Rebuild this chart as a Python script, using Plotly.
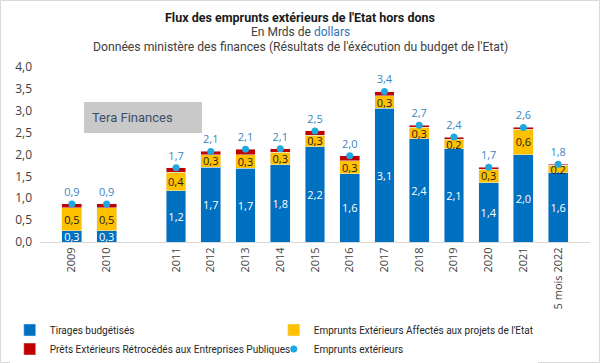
import plotly.graph_objects as go

categories = ["2009", "2010", " ", "2011", "2012", "2013", "2014", "2015", "2016",
              "2017", "2018", "2019", "2020", "2021", "5 mois 2022"]
tirages = [0.26, 0.26, None, 1.17, 1.71, 1.69, 1.77, 2.18, 1.56, 3.06, 2.36, 2.13, 1.36, 2.00, 1.58]
affectes = [0.52, 0.52, None, 0.42, 0.29, 0.30, 0.28, 0.26, 0.30, 0.28, 0.26, 0.22, 0.30, 0.58, 0.17]
retrocedes = [0.09, 0.09, None, 0.11, 0.07, 0.13, 0.08, 0.10, 0.11, 0.10, 0.05, 0.05, 0.05, 0.04, 0.03]
totaux = [0.87, 0.87, None, 1.70, 2.07, 2.12, 2.13, 2.54, 1.97, 3.44, 2.67, 2.40, 1.71, 2.62, 1.78]
y_ticks = [0.0, 0.5, 1.0, 1.5, 2.0, 2.5, 3.0, 3.5, 4.0]

def lab(vals):
    return ["" if v is None else f"{v:.1f}".replace(".", ",") for v in vals]

FONT = "Open Sans, Roboto, sans-serif"
BLUE = "#0070C0"
YELLOW = "#FFC000"
RED = "#C00000"
DOT = "#1FA8E0"

W, H = 600, 363
L, R, T, B = 40, 10, 67, 121
PW, PH = W - L - R, H - T - B

fig = go.Figure()
fig.add_trace(go.Bar(
    x=categories, y=tirages, name="Tirages budgétisés", marker_color=BLUE,
    text=lab(tirages), textposition="inside", insidetextanchor="middle",
    textfont=dict(color="white", size=11, family=FONT), textangle=0,
))
fig.add_trace(go.Bar(
    x=categories, y=affectes, name="Emprunts Extérieurs Affectés aux projets de l'Etat",
    marker_color=YELLOW,
    text=lab(affectes), textposition="inside", insidetextanchor="middle",
    textfont=dict(color="#1a1a1a", size=11, family=FONT), textangle=0,
))
fig.add_trace(go.Bar(
    x=categories, y=retrocedes, name="Prêts Extérieurs Rétrocédés aux Entreprises Publiques",
    marker_color=RED,
))
fig.add_trace(go.Scatter(
    x=categories, y=totaux, name="Emprunts extérieurs", mode="markers+text",
    marker=dict(color=DOT, size=7),
    text=lab(totaux), textposition="top center",
    textfont=dict(color="#3C86BE", size=11, family=FONT), cliponaxis=False,
))

fig.update_layout(
    width=W, height=H,
    barmode="stack", bargap=0.43,
    plot_bgcolor="white", paper_bgcolor="white",
    margin=dict(l=L, r=R, t=T, b=B, autoexpand=False),
    font=dict(family=FONT, size=11, color="#404040"),
    separators=", ",
    uniformtext=dict(minsize=11, mode="show"),
    showlegend=True,
    legend=dict(orientation="h", x=-0.055, xanchor="left", y=-0.42, yanchor="top",
                entrywidth=219, entrywidthmode="pixels", traceorder="normal",
                font=dict(size=10, color="#262626", family="Roboto, sans-serif"),
                itemwidth=30, tracegroupgap=0),
    xaxis=dict(type="category", categoryorder="array", categoryarray=categories,
               tickangle=-90, showline=True, linecolor="#D9D9D9", ticks="",
               tickfont=dict(size=11, color="#404040")),
    yaxis=dict(range=[0, 4.0], tickvals=y_ticks, tickformat=".1f", showgrid=False,
               zeroline=False, showline=False, ticks="", ticklen=0,
               ticklabelstandoff=7,
               tickfont=dict(size=12, color="#404040")),
)

annos = [
    dict(text="<b>Flux des emprunts extérieurs de l'Etat hors dons</b>", y=1.28,
         font=dict(size=12.5, color="#1a1a1a", family="Roboto, sans-serif")),
    dict(text="En Mrds de <span style='color:#2E75B6'>dollars</span>", y=1.2,
         font=dict(size=12, color="#404040", family="Roboto, sans-serif")),
    dict(text="Données ministère des finances (Résultats de l'éxécution du budget de l'Etat)", y=1.115,
         font=dict(size=12.2, color="#404040", family="Roboto, sans-serif")),
]
for a in annos:
    fig.add_annotation(x=0.473, xref="paper", yref="paper", showarrow=False,
                       xanchor="center", yanchor="middle", **a)

fig.add_annotation(text=" Tera Finances", x=0.187, y=0.711, xref="paper", yref="paper",
                   showarrow=False, xanchor="center", yanchor="middle",
                   width=108, height=21, align="left", bgcolor="#C9C9C9",
                   bordercolor="#C9C9C9", borderpad=4,
                   font=dict(size=13, color="#3B4E6B", family="Roboto, sans-serif"))

# light frame around the whole picture
fig.add_shape(type="rect", xref="paper", yref="paper",
              x0=(0.5 - L) / PW, x1=(W - 0.5 - L) / PW,
              y0=-(B - 0.5) / PH, y1=(PH + T - 0.5) / PH,
              line=dict(color="#D9D9D9", width=1), fillcolor="rgba(0,0,0,0)", layer="above")

fig.write_html("out.html", config={"displayModeBar": False},
               post_script="document.body.style.margin='0';")
